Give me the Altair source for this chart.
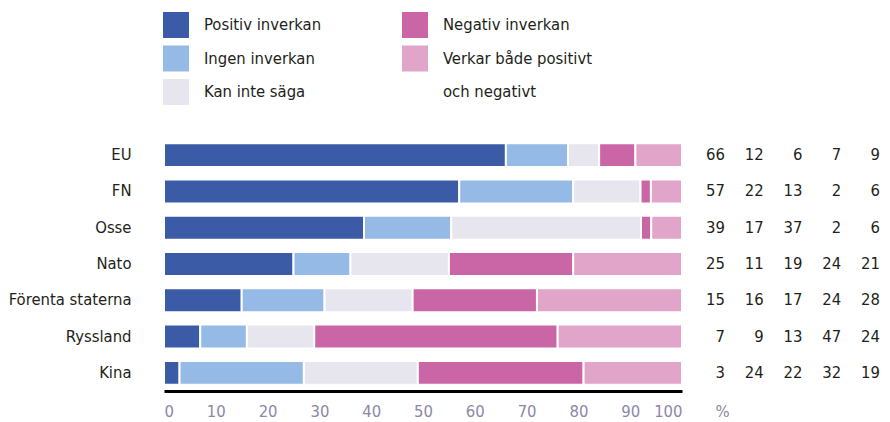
import altair as alt
import pandas as pd

FONT = "DejaVu Sans Condensed, Liberation Sans Narrow, DejaVu Sans, sans-serif"
FS = 16.5

categories = ["EU", "FN", "Osse", "Nato", "Förenta staterna", "Ryssland", "Kina"]
series = ["Positiv inverkan", "Ingen inverkan", "Kan inte säga",
          "Negativ inverkan", "Verkar både positivt och negativt"]
positiv = [66, 57, 39, 25, 15, 7, 3]
ingen = [12, 22, 17, 11, 16, 9, 24]
kan_inte = [6, 13, 37, 19, 17, 13, 22]
negativ = [7, 2, 2, 24, 24, 47, 32]
bada = [9, 6, 6, 21, 28, 24, 19]
colors = ["#3b5ba7", "#95bae5", "#e7e5ed", "#ca66a5", "#e1a5ca"]

legend_labels = ["Positiv inverkan", "Ingen inverkan", "Kan inte säga",
                 "Negativ inverkan", "Verkar både positivt", "och negativt"]
legend_text_col = [0, 0, 0, 1, 1, 1]
legend_text_row = [0, 1, 2, 0, 1, 2]
legend_swatch_col = [0, 0, 0, 1, 1]
legend_swatch_row = [0, 1, 2, 0, 1]
tick_values = [0, 10, 20, 30, 40, 50, 60, 70, 80, 90, 100]

all_values = [positiv, ingen, kan_inte, negativ, bada]
rows = []
for si, (s, vals) in enumerate(zip(series, all_values)):
    for c, v in zip(categories, vals):
        rows.append({"category": c, "series": s, "idx": si, "value": v})
df = pd.DataFrame(rows)

sw_df = pd.DataFrame({"series": series, "col": legend_swatch_col, "row": legend_swatch_row})
lt_df = pd.DataFrame({"label": legend_labels, "col": legend_text_col, "row": legend_text_row})

TEXT = "#231f20"
AXIS_GREY = "#8b87a6"

color = alt.Color("series:N", scale=alt.Scale(domain=series, range=colors), legend=None)
yband = alt.Scale(domain=categories, paddingInner=0.34, paddingOuter=0.17)

bars = alt.Chart(df).mark_bar(stroke="white", strokeWidth=2).encode(
    x=alt.X("value:Q", stack="normalize",
            scale=alt.Scale(domain=[0, 1], nice=False),
            axis=alt.Axis(values=[t / 100 for t in tick_values],
                          labelExpr="round(datum.value*100)",
                          grid=False, ticks=False, tickSize=0,
                          domainColor="black", domainWidth=3,
                          labelColor=AXIS_GREY, labelFontSize=FS, labelPadding=12,
                          labelFont=FONT, labelBaseline="top",
                          title="%", titleColor=AXIS_GREY, titleFontSize=FS,
                          titleFontWeight="normal", titleFont=FONT,
                          titleX=558, titleY=25, titleAlign="center",
                          titleBaseline="alphabetic")),
    y=alt.Y("category:N", sort=categories, scale=yband,
            axis=alt.Axis(title=None, ticks=False, domain=False, labelFontSize=FS,
                          labelColor=TEXT, labelPadding=33, labelFont=FONT,
                          labelLimit=300)),
    color=color,
    order=alt.Order("idx:Q", sort="ascending"),
)

numbers = alt.Chart(df).mark_text(align="right", baseline="middle", fontSize=FS,
                                   color=TEXT, font=FONT).encode(
    x=alt.X("idx:Q", scale=alt.Scale(domain=[0, 4], range=[561, 716]), axis=None),
    y=alt.Y("category:N", sort=categories, scale=yband, axis=None),
    text="value:Q",
)

swatches = alt.Chart(sw_df).mark_square(size=676, opacity=1).encode(
    x=alt.X("col:Q", scale=alt.Scale(domain=[0, 1], range=[12, 251]), axis=None),
    y=alt.Y("row:Q", scale=alt.Scale(domain=[0, 2], range=[-112, -45]), axis=None),
    color=color,
)

legend_text = alt.Chart(lt_df).mark_text(align="left", baseline="middle", dx=28,
                                         fontSize=FS, color=TEXT, font=FONT).encode(
    x=alt.X("col:Q", scale=alt.Scale(domain=[0, 1], range=[12, 251]), axis=None),
    y=alt.Y("row:Q", scale=alt.Scale(domain=[0, 2], range=[-112, -45]), axis=None),
    text="label:N",
)

chart = alt.layer(bars, numbers, swatches, legend_text).resolve_scale(
    x="independent", y="independent"
).properties(
    width=518, height=254,
    autosize=alt.AutoSizeParams(type="none"),
    padding={"left": 156, "top": 129, "right": 200, "bottom": 29},
).configure(font=FONT).configure_view(stroke=None)

chart.save("out.html", embed_options={"renderer": "svg", "actions": False})
